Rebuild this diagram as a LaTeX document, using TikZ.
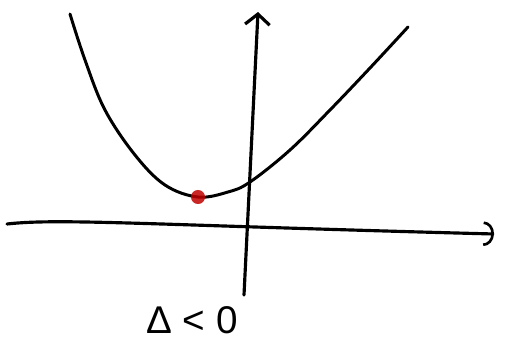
\documentclass[tikz,border=0pt]{standalone}
\usepackage{fontspec}
\setmainfont{Liberation Sans}
\usetikzlibrary{arrows.meta}

\begin{document}
\begin{tikzpicture}[x=0.02cm,y=-0.02cm,line cap=round,line join=round]
  \useasboundingbox (0,0) rectangle (505,345);
  % axes
  \coordinate (xl) at (7,224);
  \coordinate (xr) at (494,234);
  \coordinate (yb) at (244,295);
  \coordinate (yt) at (258,12);
  \draw[line width=1.8pt,-{Arc Barb[length=6pt,width=14pt,line width=1.5pt]}] (xl) .. controls (60,218) and (150,225) .. (xr);
  \draw[line width=1.8pt,-{Straight Barb[length=6pt,width=14pt,line width=1.8pt]}] (yb) -- (yt);
  % parabola
  \draw[line width=1.7pt] plot[smooth,tension=0.6] coordinates
    {(70,14) (85,60) (105,110) (135,155) (165,185) (198,197) (228,192) (250,182) (290,150) (330,110) (370,68) (408,27)};
  % vertex
  \fill[red!75!black,opacity=0.85] (198,197) circle (4pt);
  % label
  \node[font=\fontsize{22}{24}\selectfont,inner sep=0pt] (delta) at (192,320) {Δ < 0};
\end{tikzpicture}
\end{document}
